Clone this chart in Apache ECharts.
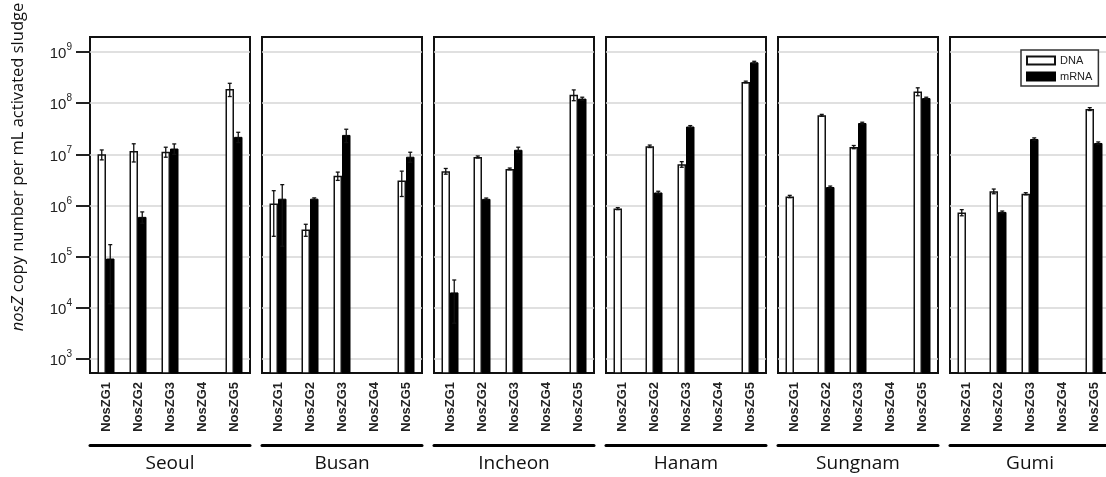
<!DOCTYPE html>
<html>
<head>
<meta charset="utf-8">
<script src="https://cdn.jsdelivr.net/npm/echarts@6/dist/echarts.min.js"></script>
<style>
  html, body { margin: 0; padding: 0; background: #fff; }
  #chart { width: 1106px; height: 477px; }
</style>
</head>
<body>
<div id="chart"></div>
<script>
// categories and panels
const categories = ['NosZG1', 'NosZG2', 'NosZG3', 'NosZG4', 'NosZG5'];
const cities = ['Seoul', 'Busan', 'Incheon', 'Hanam', 'Sungnam', 'Gumi'];

// mean copy numbers, one row per city (null = not detected)
const dnaMean = [
  [1.0e7, 1.16e7, 1.13e7, null, 1.9e8],
  [1.1e6, 3.4e5, 3.8e6, null, 3.1e6],
  [4.7e6, 8.9e6, 5.2e6, null, 1.47e8],
  [8.7e5, 1.44e7, 6.4e6, null, 2.6e8],
  [1.5e6, 5.8e7, 1.39e7, null, 1.7e8],
  [7.3e5, 1.9e6, 1.7e6, null, 7.7e7]
];
const dnaErr = [
  [2.2e6, 4.5e6, 2.5e6, null, 5.5e7],
  [8.5e5, 9e4, 7e5, null, 1.6e6],
  [6e5, 4e5, 2e5, null, 3.5e7],
  [4e4, 8e5, 8e5, null, 1e7],
  [8e4, 2.5e6, 1e6, null, 3e7],
  [1e5, 2e5, 8e4, null, 5e6]
];
const mrnaMean = [
  [9.2e4, 6.0e5, 1.3e7, null, 2.2e7],
  [1.36e6, 1.36e6, 2.4e7, null, 9.0e6],
  [2.0e4, 1.35e6, 1.23e7, null, 1.23e8],
  [null, 1.8e6, 3.5e7, null, 6.3e8],
  [null, 2.3e6, 4.1e7, null, 1.26e8],
  [null, 7.5e5, 2.0e7, null, 1.67e7]
];
const mrnaErr = [
  [8e4, 1.5e5, 3e6, null, 5e6],
  [1.2e6, 5e4, 7e6, null, 2e6],
  [1.5e4, 5e4, 1.5e6, null, 8e6],
  [null, 1e5, 1.5e6, null, 3e7],
  [null, 1e5, 1.5e6, null, 5e6],
  [null, 3e4, 1e6, null, 8e5]
];

// y axis ticks
const yTicks = [1e3, 1e4, 1e5, 1e6, 1e7, 1e8, 1e9];
const yMin = 532;
const yMax = 1.97e9;

const BAR_W = 8.5;

let myChart = echarts.init(document.getElementById('chart'));

function errData(means, errs, side) {
  let out = [];
  means.forEach((m, j) => {
    if (m != null && errs[j] != null) out.push([j, m, errs[j], side]);
  });
  return out;
}

function renderErr(params, api) {
  const j = api.value(0), m = api.value(1), e = api.value(2), side = api.value(3);
  const top = api.coord([j, m + e]);
  const bot = api.coord([j, Math.max(m - e, yMin)]);
  const x = top[0] + side * BAR_W / 2;
  const st = { stroke: '#111', lineWidth: 1.3 };
  return {
    type: 'group',
    children: [
      { type: 'line', shape: { x1: x, y1: top[1], x2: x, y2: bot[1] }, style: st },
      { type: 'line', shape: { x1: x - 2, y1: top[1], x2: x + 2, y2: top[1] }, style: st },
      { type: 'line', shape: { x1: x - 2, y1: bot[1], x2: x + 2, y2: bot[1] }, style: st }
    ]
  };
}

let grids = [], xAxes = [], yAxes = [], series = [];
cities.forEach((city, i) => {
  grids.push({
    left: 90 + i * 172, top: 37, width: 160, height: 336,
    show: true, borderColor: '#111', borderWidth: 2, backgroundColor: 'transparent',
    containLabel: false, outerBoundsMode: 'none'
  });
  // category labels
  xAxes.push({
    type: 'category', gridIndex: i, data: categories,
    axisLine: { show: false }, axisTick: { show: false }, splitLine: { show: false },
    axisLabel: {
      rotate: 90, margin: 9, interval: 0, fontSize: 13, fontWeight: 'bold',
      color: '#222', fontFamily: 'Liberation Sans'
    }
  });
  // underline + city name
  xAxes.push({
    type: 'category', gridIndex: i, data: categories, position: 'bottom', offset: 72,
    axisLine: { show: true, lineStyle: { color: '#000', width: 3 } },
    axisTick: { show: false }, axisLabel: { show: false }, splitLine: { show: false },
    name: city, nameLocation: 'middle', nameGap: 9,
    nameTextStyle: { fontSize: 19, color: '#111', fontFamily: 'Open Sans' }
  });
  yAxes.push({
    type: 'log', logBase: 10, gridIndex: i, min: yMin, max: yMax,
    axisLine: { show: false },
    axisTick: {
      show: i === 0, length: 14, customValues: yTicks,
      lineStyle: { color: '#222', width: 2 }
    },
    axisLabel: {
      show: i === 0, customValues: yTicks, margin: 18,
      formatter: v => '{b|10}{s|' + Math.round(Math.log10(v)) + '}',
      rich: {
        b: { fontSize: 15, color: '#222', fontFamily: 'Liberation Sans', lineHeight: 19, verticalAlign: 'bottom' },
        s: { fontSize: 10, color: '#222', fontFamily: 'Liberation Sans', lineHeight: 10, verticalAlign: 'top' }
      }
    },
    splitLine: { show: true, lineStyle: { color: '#d6d6d6', width: 1.5 } }
  });
  series.push({
    name: 'DNA', type: 'bar', xAxisIndex: 2 * i, yAxisIndex: i,
    data: dnaMean[i], barWidth: BAR_W, barGap: '0%', clip: true,
    itemStyle: { color: '#fff', borderColor: '#111', borderWidth: 1.5 }
  });
  series.push({
    name: 'mRNA', type: 'bar', xAxisIndex: 2 * i, yAxisIndex: i,
    data: mrnaMean[i], barWidth: BAR_W, barGap: '0%', clip: true,
    itemStyle: { color: '#000', borderColor: '#000', borderWidth: 1 }
  });
  series.push({
    type: 'custom', xAxisIndex: 2 * i, yAxisIndex: i, z: 5,
    data: errData(dnaMean[i], dnaErr[i], -1).concat(errData(mrnaMean[i], mrnaErr[i], 1)),
    renderItem: renderErr
  });
});

let option = {
  backgroundColor: '#fff',
  animation: false,
  grid: grids,
  xAxis: xAxes,
  yAxis: yAxes,
  legend: {
    data: ['DNA', 'mRNA'], orient: 'vertical', left: 1021, top: 50,
    itemWidth: 28, itemHeight: 8, itemGap: 5, icon: 'rect', selectedMode: false,
    padding: [5, 6, 4, 5], borderColor: '#333', borderWidth: 1.5, backgroundColor: '#fff',
    textStyle: { fontSize: 11, color: '#222', fontFamily: 'Liberation Sans' }
  },
  graphic: [{
    type: 'text', x: 18, y: 167, rotation: Math.PI / 2,
    style: {
      text: '{i|nosZ} copy number per mL activated sludge',
      fontSize: 16.5, fontFamily: 'Open Sans', fill: '#111',
      align: 'center', verticalAlign: 'middle',
      rich: { i: { fontStyle: 'italic', fontSize: 16.5, fontFamily: 'Open Sans', fill: '#111' } }
    }
  }],
  series: series
};
myChart.setOption(option);
</script>
</body>
</html>
